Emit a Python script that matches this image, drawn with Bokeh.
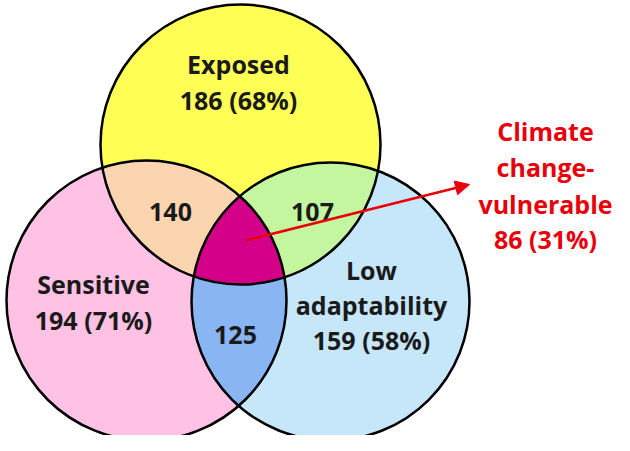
import numpy as np
from bokeh.plotting import figure
from bokeh.models import Range1d, Arrow, NormalHead
from bokeh.core.properties import value
from bokeh.embed import file_html
from bokeh.resources import INLINE

# Sets (circle geometry in reference pixel space)
set_names = ["Exposed", "Sensitive", "Low adaptability"]
cx = [248, 154, 338]
cy = [152, 308, 309]
radius = [140, 140, 139]
fill_colors = ["#FFFF55", "#FFC2E4", "#C6E6FA"]

# Labels
set_labels = [["Exposed", "186 (68%)"], ["Sensitive", "194 (71%)"], ["Low", "adaptability", "159 (58%)"]]
label_x = [246, 101, 379]
label_y = [[67, 103], [287, 323], [273, 308, 343]]

pair_values = ["140", "107", "125"]
pair_x = [178, 320, 243]
pair_y = [215, 215, 338]
pair_colors = ["#FBD4B0", "#C4F6A0", "#8AB5F3"]
pairs = [(0, 1), (0, 2), (1, 2)]

triple_color = "#D5008A"
callout_lines = ["Climate", "change-", "vulnerable", "86 (31%)"]
callout_x = 553
callout_y = [134, 170, 207, 242]
arrow_start = (253, 248)
arrow_end = (477, 192)

FONT = "Open Sans"
FSIZE = "25px"
YOFF = 4

p = figure(width=614, height=435, output_backend="svg", toolbar_location=None,
           x_range=Range1d(8, 622), y_range=Range1d(443, 8), min_border=0)
p.axis.visible = False
p.grid.visible = False
p.outline_line_color = None
p.background_fill_color = "white"


def inside(px, py, idxs):
    ok = np.ones_like(px, dtype=bool)
    for i in idxs:
        ok &= (px - cx[i]) ** 2 + (py - cy[i]) ** 2 <= radius[i] ** 2 + 1e-6
    return ok


def region(idxs):
    t = np.linspace(0, 2 * np.pi, 2000)
    xs, ys = [], []
    for i in idxs:
        px = cx[i] + radius[i] * np.cos(t)
        py = cy[i] + radius[i] * np.sin(t)
        m = inside(px, py, idxs)
        xs.append(px[m]); ys.append(py[m])
    xs = np.concatenate(xs); ys = np.concatenate(ys)
    mx, my = xs.mean(), ys.mean()
    order = np.argsort(np.arctan2(ys - my, xs - mx))
    return list(xs[order]), list(ys[order])


# base circles
for i in [0, 1, 2]:
    p.circle(x=[cx[i]], y=[cy[i]], radius=radius[i], fill_color=fill_colors[i], line_color=None)

for (a, b), c in zip(pairs, pair_colors):
    xs, ys = region([a, b])
    p.patch(xs, ys, fill_color=c, line_color=None)

xs, ys = region([0, 1, 2])
p.patch(xs, ys, fill_color=triple_color, line_color=None)

# outlines
for i in [0, 1, 2]:
    p.circle(x=[cx[i]], y=[cy[i]], radius=radius[i], fill_color=None, line_color="black", line_width=2.5)

# labels
for i in range(3):
    for line, yy in zip(set_labels[i], label_y[i]):
        p.text(x=[label_x[i]], y=[yy], text=[line], text_font=value(FONT), text_font_style="bold",
               text_font_size=FSIZE, text_align="center", text_baseline="middle", text_color="#1a1a1a",
               y_offset=YOFF)

p.text(x=pair_x, y=pair_y, text=pair_values, text_font=value(FONT), text_font_style="bold",
       text_font_size=FSIZE, text_align="center", text_baseline="middle", text_color="#1a1a1a",
       y_offset=YOFF)

p.add_layout(Arrow(end=NormalHead(size=14, fill_color="#E8000B", line_color="#E8000B"),
                   x_start=arrow_start[0], y_start=arrow_start[1], x_end=arrow_end[0], y_end=arrow_end[1],
                   line_color="#E8000B", line_width=2.5))

p.text(x=[callout_x] * len(callout_lines), y=callout_y, text=callout_lines, text_font=value(FONT),
       text_font_style="bold", text_font_size=FSIZE, text_align="center", text_baseline="middle",
       text_color="#E8000B", y_offset=YOFF)

open("out.html", "w").write(file_html(p, INLINE))
